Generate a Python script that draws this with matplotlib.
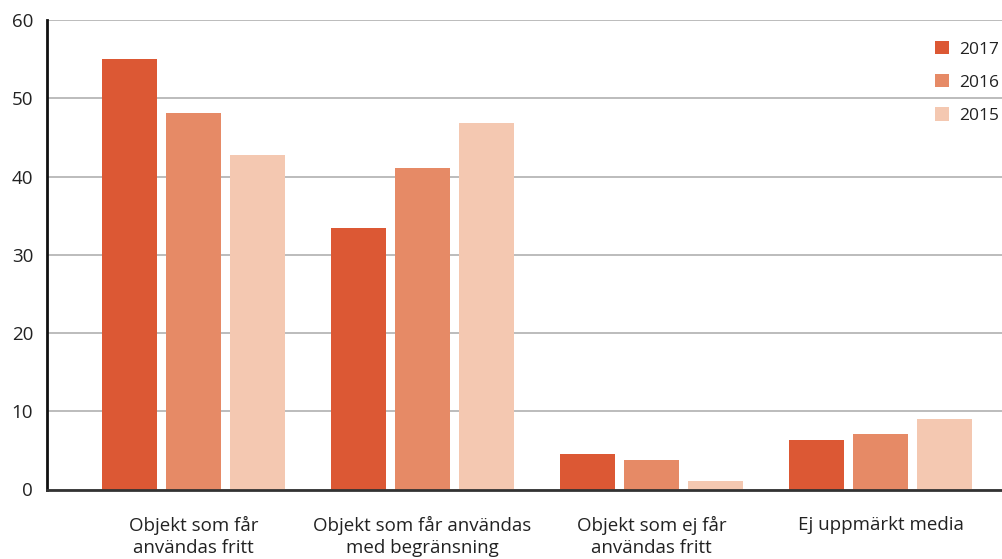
import matplotlib
matplotlib.use("Agg")
import matplotlib.pyplot as plt
import numpy as np

plt.rcParams['font.family'] = ['Open Sans', 'DejaVu Sans']

categories = ["Objekt som får\nanvändas fritt",
              "Objekt som får användas\nmed begränsning",
              "Objekt som ej får\nanvändas fritt",
              "Ej uppmärkt media"]
years = ["2017", "2016", "2015"]
v2017 = [55.0, 33.4, 4.5, 6.3]
v2016 = [48.1, 41.1, 3.8, 7.1]
v2015 = [42.7, 46.9, 1.1, 9.0]
colors = ["#DC5834", "#E68A66", "#F4C8B1"]

fig = plt.figure(figsize=(10.03, 5.59), dpi=100)
ax = fig.add_axes([47 / 1003, 1 - 489.5 / 559, 1 - 47 / 1003, (489.5 - 20) / 559])

x = np.arange(len(categories))
step = 0.2795
width = 0.240
handles = []
for i, (vals, col) in enumerate(zip([v2017, v2016, v2015], colors)):
    b = ax.bar(x + (i - 1) * step, vals, width, color=col, zorder=3, label=years[i])
    handles.append(b)

ax.set_xlim(-0.640, 3.535)
ax.set_ylim(0, 60)
ax.set_yticks(range(0, 61, 10))
ax.yaxis.grid(True, color="#AAAAAA", linewidth=1.1, zorder=0)
ax.set_axisbelow(True)
ax.set_xticks(x)
ax.set_xticklabels(categories, fontsize=13.5, color="#222222", linespacing=1.3)
ax.tick_params(axis='x', length=0, pad=19)
ax.tick_params(axis='y', length=0, pad=10, labelsize=13.5, labelcolor="#222222")

for s in ["top", "right"]:
    ax.spines[s].set_visible(False)
ax.spines["left"].set_color("#111111")
ax.spines["left"].set_linewidth(2)
ax.spines["bottom"].set_color("#333333")
ax.spines["bottom"].set_linewidth(2)
ax.spines["bottom"].set_zorder(4)

fig.legend(handles=handles, loc="upper left",
           bbox_to_anchor=(935 / 1003, 1 - 41 / 559),
           frameon=False, fontsize=12.5, handlelength=0.8, handleheight=0.8,
           handletextpad=0.6, labelspacing=0.95, borderpad=0, borderaxespad=0,
           labelcolor="#222222")

fig.savefig("out.png", dpi=100)
